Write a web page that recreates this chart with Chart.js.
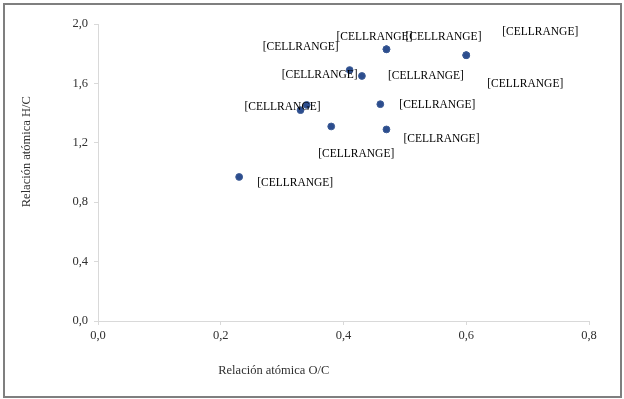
<!DOCTYPE html>
<html>
<head>
	<meta charset="utf-8">
	<title>Relación atómica H/C vs O/C</title>
	<script src="https://cdn.jsdelivr.net/npm/chart.js"></script>
	<style>
		body { margin: 0; background: #ffffff; overflow: hidden; }
		#caja { position: relative; width: 624px; height: 399px; }
		#grafico { display: block; }
		#marco {
			position: absolute; left: 3px; top: 3px; width: 615px; height: 391px;
			border: 2px solid #7f7f7f; pointer-events: none;
		}
	</style>
</head>
<body>
	<div id="caja">
		<canvas id="grafico" width="624" height="399"></canvas>
		<div id="marco"></div>
	</div>
<script>
	// datos
	var relacionOC = [0.23, 0.33, 0.34, 0.38, 0.41, 0.43, 0.46, 0.47, 0.47, 0.60, 0.60, 0.47];
	var relacionHC = [0.97, 1.42, 1.455, 1.31, 1.69, 1.65, 1.46, 1.83, 1.29, 1.79, 1.79, 1.83];
	var etiquetas = ["[CELLRANGE]", "[CELLRANGE]", "[CELLRANGE]", "[CELLRANGE]", "[CELLRANGE]", "[CELLRANGE]",
		"[CELLRANGE]", "[CELLRANGE]", "[CELLRANGE]", "[CELLRANGE]", "[CELLRANGE]", "[CELLRANGE]"];
	var ticksX = [0, 0.2, 0.4, 0.6, 0.8];
	var ticksY = [0, 0.4, 0.8, 1.2, 1.6, 2.0];
	var tituloX = "Relación atómica O/C";
	var tituloY = "Relación atómica H/C";

	// desplazamiento (px) de cada etiqueta respecto a su punto
	var desplazamientos = [[56, 6], [-18, -3], [13, -30], [25, 28], [-49, -23], [64, 0],
		[57, 1], [-12, -12], [55, 10], [59, 29], [74, -23], [57, -12]];

	var puntos = [];
	for (var i = 0; i < relacionOC.length; i++) {
		puntos.push({ x: relacionOC[i], y: relacionHC[i] });
	}

	function coma(v) {
		return Number(v).toFixed(1).replace('.', ',');
	}

	// etiquetas de datos y titulos de ejes
	var pluginTextos = {
		id: 'textos',
		afterDatasetsDraw: function (chart) {
			var ctx = chart.ctx;
			var meta = chart.getDatasetMeta(0);
			ctx.save();
			ctx.font = '11.5px "Liberation Serif", serif';
			ctx.fillStyle = '#000000';
			ctx.textAlign = 'center';
			ctx.textBaseline = 'middle';
			meta.data.forEach(function (p, k) {
				var d = desplazamientos[k];
				ctx.fillText(etiquetas[k], p.x + d[0], p.y + d[1]);
			});

			var area = chart.chartArea;
			ctx.font = '12.5px "Liberation Serif", serif';
			ctx.fillStyle = '#303030';
			ctx.fillText(tituloX, area.left + (area.right - area.left) * 0.358, 371);
			ctx.translate(27, area.top + (area.bottom - area.top) * 0.43);
			ctx.rotate(-Math.PI / 2);
			ctx.fillText(tituloY, 0, 0);
			ctx.restore();
		}
	};

	var fuenteTicks = { family: '"Liberation Serif", serif', size: 12.5 };

	new Chart(document.getElementById('grafico'), {
		type: 'scatter',
		data: {
			datasets: [{
				label: 'H/C',
				data: puntos,
				backgroundColor: '#2c4d8e',
				borderColor: '#3d5c95',
				borderWidth: 1,
				pointRadius: 3.4,
				pointHoverRadius: 3.4
			}]
		},
		options: {
			responsive: false,
			animation: false,
			layout: { padding: { left: 0, top: 24, right: 35, bottom: 0 } },
			plugins: {
				legend: { display: false },
				tooltip: { enabled: false }
			},
			scales: {
				x: {
					type: 'linear',
					min: 0,
					max: 0.8,
					afterBuildTicks: function (s) { s.ticks = ticksX.map(function (v) { return { value: v }; }); },
					afterFit: function (s) { s.height = 78; },
					grid: { drawOnChartArea: false, color: '#d9d9d9', tickLength: 4 },
					border: { color: '#d9d9d9' },
					ticks: { font: fuenteTicks, color: '#303030', padding: 3, callback: coma }
				},
				y: {
					type: 'linear',
					min: 0,
					max: 2,
					afterBuildTicks: function (s) { s.ticks = ticksY.map(function (v) { return { value: v }; }); },
					afterFit: function (s) { s.width = 98; },
					grid: { drawOnChartArea: false, color: '#d9d9d9', tickLength: 4 },
					border: { color: '#d9d9d9' },
					ticks: { font: fuenteTicks, color: '#303030', padding: 6, callback: coma }
				}
			}
		},
		plugins: [pluginTextos]
	});
</script>
</body>
</html>
